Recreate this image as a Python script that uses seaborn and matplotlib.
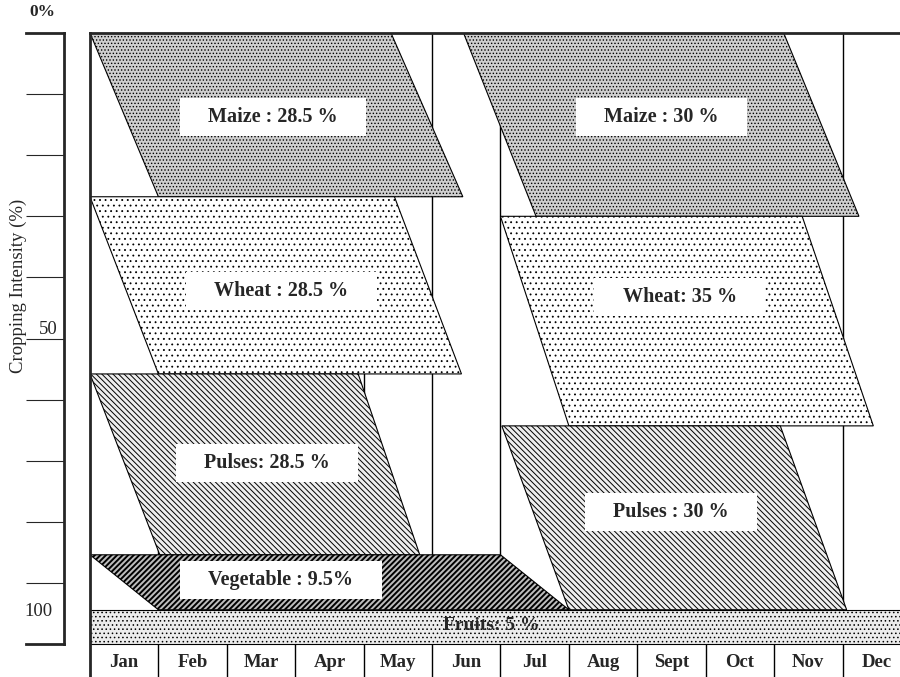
import seaborn as sns
import matplotlib.pyplot as plt
import numpy as np

# months along the bottom row
months = ["Jan", "Feb", "Mar", "Apr", "May", "Jun",
          "Jul", "Aug", "Sept", "Oct", "Nov", "Dec"]

# one entry per crop block (left season first, then right season, then fruits)
crops = ["Maize", "Wheat", "Pulses", "Vegetable",
         "Maize", "Wheat", "Pulses", "Fruits"]
labels = ["Maize : 28.5 %", "Wheat : 28.5 %", "Pulses: 28.5 %", "Vegetable : 9.5%",
          "Maize : 30 %", "Wheat: 35 %", "Pulses : 30 %", "Fruits: 5 %"]

# month position of the block edges (top row and bottom row of each block)
top_start = [0.0, 0.0, 0.0, 0.0, 5.46, 6.0, 6.02, 0.0]
top_end = [4.40, 4.45, 3.92, 6.0, 10.14, 10.41, 10.09, 12.0]
bot_start = [1.0, 1.0, 1.02, 1.0, 6.52, 7.0, 7.0, 0.0]
bot_end = [5.45, 5.43, 4.82, 7.0, 11.24, 11.45, 11.06, 12.0]

# cropping intensity (%) at top and bottom of each block
y_top = [0.0, 26.8, 55.8, 85.4, 0.0, 30.0, 64.3, 94.4]
y_bot = [26.8, 55.8, 85.4, 94.4, 30.0, 64.3, 94.4, 100.0]

# where the labels sit
label_x = [2.67, 2.80, 2.59, 2.79, 8.35, 8.62, 8.49, 5.86]
label_y = [13.8, 42.2, 70.4, 89.5, 13.8, 43.2, 78.4, 97.0]

scale_ticks = np.arange(0, 101, 10)

sns.set_style("white")
plt.rcParams['font.family'] = ['Liberation Serif', 'DejaVu Serif']
plt.rcParams['hatch.linewidth'] = 0.6

styles = {
    "Maize": dict(fc="#cfcfcf", hatch=".....", hlw=0.6),
    "Wheat": dict(fc="white", hatch="...", hlw=0.6),
    "Pulses": dict(fc="#eeeeee", hatch="\\" * 6, hlw=0.7),
    "Vegetable": dict(fc="#bdbdbd", hatch="/" * 6, hlw=1.4),
    "Fruits": dict(fc="#ececec", hatch="....", hlw=0.6),
}

fig = plt.figure(figsize=(9, 6.77), dpi=100)
ax = fig.add_axes([0.1, 0.0, 0.9, 1 - 33 / 677])
ax.set_xlim(0, 11.84)
ax.set_ylim(105.4, 0)

# month boundaries behind the crop blocks
ax.vlines(np.arange(1, 12), 0, y_bot[-2], color="black", lw=1, zorder=1)

for i, crop in enumerate(crops):
    xs = [top_start[i], top_end[i], bot_end[i], bot_start[i]]
    ys = [y_top[i], y_top[i], y_bot[i], y_bot[i]]
    st = styles[crop]
    plt.rcParams['hatch.linewidth'] = st["hlw"]
    poly = ax.fill(xs, ys, facecolor=st["fc"], edgecolor="black",
                   hatch=st["hatch"], lw=0.8, zorder=2)[0]
    if hasattr(poly, "set_hatch_linewidth"):
        poly.set_hatch_linewidth(st["hlw"])
    if crop == "Fruits":
        ax.text(label_x[i], label_y[i], labels[i], ha="center", va="center",
                fontsize=14, fontweight="bold", zorder=4)
    else:
        ax.text(label_x[i], label_y[i], labels[i], ha="center", va="center",
                fontsize=14.5, fontweight="bold", zorder=4,
                bbox=dict(boxstyle="square,pad=1.4", mutation_aspect=0.32,
                          fc="white", ec="none"))

# month row
ax.vlines(np.arange(1, 12), 100, 105.4, color="black", lw=1, zorder=3)
for i, m in enumerate(months):
    ax.text(i + 0.5, 103.1, m, ha="center", va="center",
            fontsize=13.5, fontweight="bold")

ax.set_xticks([])
ax.set_yticks([])
sns.despine(ax=ax, right=True, bottom=True, top=False, left=False)
ax.spines["top"].set_linewidth(2)
ax.spines["left"].set_linewidth(2)

# separate cropping intensity scale on the left
sx = fig.add_axes([26 / 900, 1 - 644 / 677, 38 / 900, 611 / 677])
sx.set_xlim(0, 1)
sx.set_ylim(100, 0)
sx.set_facecolor("none")
sns.despine(ax=sx, left=True, right=False, top=False, bottom=False)
for s in ["right", "top", "bottom"]:
    sx.spines[s].set_linewidth(2)
sx.set_xticks([])
sx.yaxis.tick_right()
sx.set_yticks(scale_ticks[1:-1])
sx.tick_params(axis="y", direction="in", length=27.4, width=0.8,
               labelright=False)
sx.text(0.42, -3.4, "0%", ha="center", va="center", fontsize=12.5,
        fontweight="bold", clip_on=False)
sx.text(0.58, 48.6, "50", ha="center", va="center", fontsize=13.5,
        clip_on=False)
sx.text(0.32, 94.6, "100", ha="center", va="center", fontsize=13.5,
        clip_on=False)
sx.text(-0.21, 41.4, "Cropping Intensity (%)", rotation=90, ha="center",
        va="center", fontsize=13.5, clip_on=False)

fig.savefig("out.png", dpi=100)
